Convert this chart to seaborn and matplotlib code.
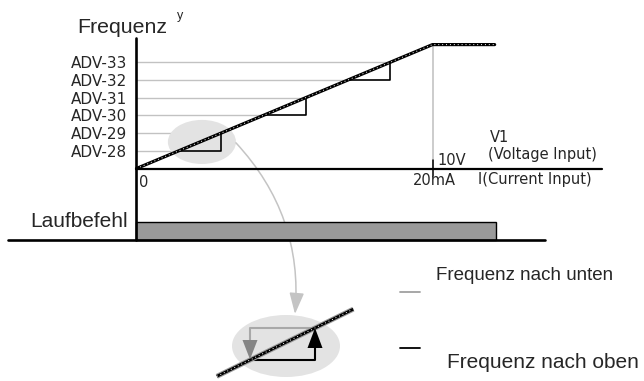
import matplotlib
matplotlib.use("Agg")
import matplotlib.pyplot as plt
from matplotlib.patches import Ellipse, Polygon
import seaborn as sns

# ---- diagram values -------------------------------------------------------
adv_labels = ["ADV-28", "ADV-29", "ADV-30", "ADV-31", "ADV-32", "ADV-33"]
adv_levels = [1, 2, 3, 4, 5, 6]          # frequency steps
max_level = 7                            # maximum frequency
full_scale_v = 10.0                      # 10V / 20mA analog input
ramp_v = [0.0, 10.0, 12.1]               # analog input (V)
ramp_level = [0, 7, 7]                   # resulting frequency level
step_start_levels = [1, 3, 5]            # staircase drawn between these steps
run_start_v, run_end_v = 0.0, 12.15      # run command active span
inset_ramp_v = [0.70, 3.70]              # visible part of the ramp in the detail view
inset_step = 1                           # step shown in the detail view

sns.set_theme(style="white")
plt.rcParams["font.family"] = ["Liberation Sans", "DejaVu Sans"]
WIDE = ["DejaVu Sans"]


def level_at(v):
    return v / full_scale_v * max_level


def v_at(level):
    return level / max_level * full_scale_v


W, H = 644, 381
fig = plt.figure(figsize=(W / 100, H / 100), dpi=100)

# main panel: x in volts, y in frequency steps
X0, SX = 136.5, 29.6
Y0, SY = 168.5, 17.7


def dx(px):
    return (px - X0) / SX


def dy(py):
    return (Y0 - py) / SY


ax = fig.add_axes([0, 0, 1, 1])
ax.set_xlim(dx(0), dx(W))
ax.set_ylim(dy(H), dy(0))
ax.axis("off")

# horizontal step guides up to the ramp
for lv in adv_levels:
    ax.plot([0, v_at(lv)], [lv, lv], color="#c2c2c2", lw=1.0, zorder=1)

# full scale marker
ax.plot([full_scale_v, full_scale_v], [0, max_level], color="#c8c8c8", lw=1.3, zorder=1)

# highlighted region around the first step
ax.add_patch(Ellipse((2.21, 1.50), 2.30, 2.49, fc="#e3e3e3", ec="none", zorder=2))

# staircase
for lv in step_start_levels:
    ax.plot([v_at(lv), v_at(lv + 1), v_at(lv + 1)], [lv, lv, lv + 1],
            color="black", lw=1.2, zorder=3)

# ramp: heavy black with white dots
sns.lineplot(x=ramp_v, y=ramp_level, color="black", lw=2.3, sort=False,
             estimator=None, ax=ax, zorder=4, legend=False)
ax.plot(ramp_v, ramp_level, color="white", lw=0.7, ls=(0, (1, 3)), zorder=5)

# axes
ax.plot([0, 0], [dy(240), dy(38)], color="black", lw=1.9, zorder=6)
ax.plot([0, dx(602)], [0, 0], color="black", lw=1.6, zorder=6)
ax.plot([full_scale_v, full_scale_v], [dy(176), dy(160)], color="black", lw=1.1, zorder=6)

# run command
bar_lo, bar_hi = dy(240), dy(222)
ax.barh(y=(bar_lo + bar_hi) / 2, width=run_end_v - run_start_v, left=run_start_v,
        height=bar_hi - bar_lo, color="#9a9a9a", edgecolor="black", lw=1.0, zorder=4)
ax.plot([dx(8), dx(545)], [bar_lo, bar_lo], color="black", lw=1.9, zorder=6)

# texts
ax.text(dx(77), dy(33), "Frequenz", fontsize=15.3, ha="left", va="baseline")
ax.text(dx(177), dy(19), "y", fontsize=9, ha="left", va="baseline")
for lab, lv in zip(adv_labels, adv_levels):
    ax.text(dx(127), lv, lab, fontsize=11, family=WIDE, ha="right", va="center_baseline")
ax.text(dx(139), dy(187), "0", fontsize=10.5, family=WIDE, ha="left", va="baseline")
ax.text(dx(437), dy(165), "10V", fontsize=10.5, family=WIDE, ha="left", va="baseline")
ax.text(dx(490), dy(142), "V1", fontsize=10.5, family=WIDE, ha="left", va="baseline")
ax.text(dx(488), dy(159), "(Voltage Input)", fontsize=10.5, family=WIDE, ha="left", va="baseline")
ax.text(dx(413), dy(185), "20mA", fontsize=10.5, family=WIDE, ha="left", va="baseline")
ax.text(dx(478), dy(184), "I(Current Input)", fontsize=10.5, family=WIDE, ha="left", va="baseline")
ax.text(dx(128), dy(227), "Laufbefehl", fontsize=15, ha="right", va="baseline")

# key for the detail view
ax.plot([dx(400), dx(420)], [dy(292)] * 2, color="#a0a0a0", lw=1.3)
ax.plot([dx(400), dx(420)], [dy(348)] * 2, color="black", lw=1.3)
ax.text(dx(436), dy(280), "Frequenz nach unten", fontsize=13.5, ha="left", va="baseline")
ax.text(dx(447), dy(368), "Frequenz nach oben", fontsize=15, ha="left", va="baseline")

# ---- detail view of one step (hysteresis) ---------------------------------
IL, IR, IT, IB = 200, 372, 295, 381
PX_A, SXI = 250.0, 45.5
PY_1, SYI = 360.0, 32.0


def ix(px):
    return v_at(inset_step) + (px - PX_A) / SXI


def iy(py):
    return inset_step + (PY_1 - py) / SYI


ins = fig.add_axes([IL / W, 1 - IB / H, (IR - IL) / W, (IB - IT) / H])
ins.set_xlim(ix(IL), ix(IR))
ins.set_ylim(iy(IB), iy(IT))
ins.axis("off")
ins.patch.set_alpha(0)

ins.add_patch(Ellipse((ix(286), iy(346)), 108 / SXI, 62 / SYI, fc="#e3e3e3", ec="none", zorder=1))

lo, hi = inset_step, inset_step + 1
va_, vb_ = v_at(lo), v_at(hi)
# going down: hold the upper step until the lower threshold
ins.plot([vb_, va_, va_], [hi, hi, lo + 0.3], color="#a8a8a8", lw=1.5, zorder=2)
# going up: hold the lower step until the upper threshold
ins.plot([va_, vb_, vb_], [lo, lo, hi - 0.3], color="black", lw=1.5, zorder=2)

ir_lv = [level_at(v) for v in inset_ramp_v]
ins.plot(inset_ramp_v, ir_lv, color="#9c9c9c", lw=3.6, solid_capstyle="butt", zorder=3)
ins.plot(inset_ramp_v, ir_lv, color="black", lw=2.0, solid_capstyle="butt", zorder=3)
ins.plot(inset_ramp_v, ir_lv, color="white", lw=0.7, ls=(0, (1, 3)), zorder=3)

hw, hl = 7.5 / SXI, 20 / SYI
ins.add_patch(Polygon([(va_, lo + 0.02), (va_ - hw, lo + hl), (va_ + hw, lo + hl)],
                      closed=True, fc="#858585", ec="none", zorder=4))
ins.add_patch(Polygon([(vb_, hi), (vb_ - hw, hi - hl), (vb_ + hw, hi - hl)],
                      closed=True, fc="black", ec="none", zorder=4))

# curved pointer from the highlighted step to the detail view
ax.annotate("", xy=(ix(295), iy(314)), xycoords=ins.transData,
            xytext=(3.36, 1.45), textcoords=ax.transData,
            arrowprops=dict(arrowstyle="-|>,head_length=1.3,head_width=0.45",
                            color="#c4c4c4", lw=1.1, connectionstyle="arc3,rad=-0.22",
                            shrinkA=0, shrinkB=0, mutation_scale=10),
            annotation_clip=False)

fig.savefig("out.png", dpi=100)
